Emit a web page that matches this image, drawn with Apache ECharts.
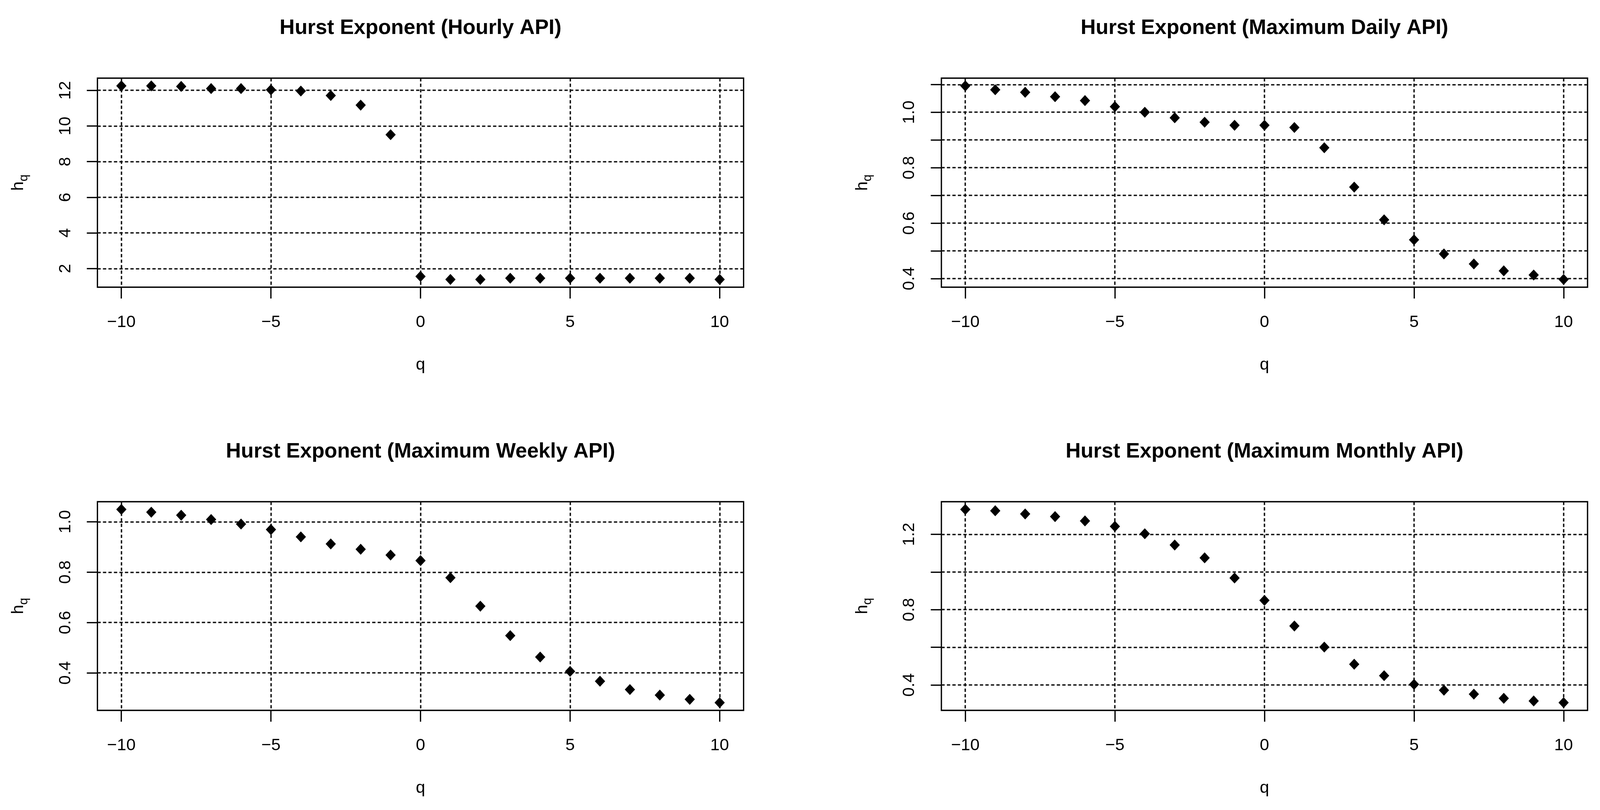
<!DOCTYPE html>
<html>
<head>
<meta charset="utf-8">
<script src="https://cdn.jsdelivr.net/npm/echarts@6/dist/echarts.min.js"></script>
<style>
html,body{margin:0;padding:0;background:#fff;overflow:hidden;}
#c{width:100vw;height:100vh;}
</style>
</head>
<body>
<div id="c"></div>
<script>
// ---- data ----
const q = [-10,-9,-8,-7,-6,-5,-4,-3,-2,-1,0,1,2,3,4,5,6,7,8,9,10];
const hourly  = [12.25,12.25,12.22,12.10,12.10,12.03,11.96,11.71,11.17,9.51,1.56,1.39,1.39,1.46,1.46,1.46,1.46,1.46,1.46,1.46,1.39];
const daily   = [1.095,1.081,1.072,1.056,1.042,1.020,1.000,0.980,0.964,0.953,0.953,0.945,0.872,0.730,0.612,0.540,0.489,0.453,0.428,0.413,0.397];
const weekly  = [1.049,1.038,1.026,1.009,0.991,0.969,0.940,0.912,0.891,0.868,0.846,0.778,0.665,0.548,0.463,0.406,0.367,0.334,0.312,0.295,0.282];
const monthly = [1.332,1.325,1.308,1.294,1.271,1.242,1.203,1.143,1.075,0.968,0.849,0.713,0.601,0.510,0.449,0.403,0.372,0.351,0.329,0.315,0.306];

const titles = ["Hurst Exponent (Hourly API)","Hurst Exponent (Maximum Daily API)","Hurst Exponent (Maximum Weekly API)","Hurst Exponent (Maximum Monthly API)"];
const xTicks = [-10,-5,0,5,10];
const yTicks1 = [2,4,6,8,10,12];
const yLabels1 = [2,4,6,8,10,12];
const yTicks2 = [0.4,0.5,0.6,0.7,0.8,0.9,1.0,1.1];
const yLabels2 = [0.4,0.6,0.8,1.0];
const yTicks3 = [0.4,0.6,0.8,1.0];
const yLabels3 = [0.4,0.6,0.8,1.0];
const yTicks4 = [0.4,0.6,0.8,1.0,1.2];
const yLabels4 = [0.4,0.8,1.2];

const seriesVals = [hourly, daily, weekly, monthly];
const yTicks = [yTicks1, yTicks2, yTicks3, yTicks4];
const yLabels = [yLabels1, yLabels2, yLabels3, yLabels4];
const yDigits = [0,1,1,1];

// ---- layout (designed in 4368x2073 reference pixels, scaled to the viewport) ----
const SX = window.innerWidth / 4368, SY = window.innerHeight / 2073, S = Math.min(SX, SY);
const px = v => v * SX, py = v => v * SY, fs = v => v * S;
const gridsRef = [
  {left:266, top:200, width:1764, height:535},
  {left:2570, top:200, width:1764, height:535},
  {left:266, top:1284, width:1764, height:534},
  {left:2570, top:1284, width:1764, height:534}
];
const grids = gridsRef.map(g => ({left:px(g.left), top:py(g.top), width:px(g.width), height:py(g.height)}));
const titleTops = [46, 46, 1130, 1130];

const FONT = "'Liberation Sans', Arial, sans-serif";
const ext = (arr) => { const mn = Math.min(...arr), mx = Math.max(...arr), r = mx - mn; return [mn - 0.04*r, mx + 0.04*r]; };
const minus = (s) => String(s).replace('-', '\u2212');
const GRIDLINE = {color:'#111', width:fs(3.8), type:[fs(9), fs(6)]};

const option = {
  animation: false,
  backgroundColor: '#fff',
  title: titles.map((t,i) => ({
    text: t, left: grids[i].left + grids[i].width/2, top: py(titleTops[i]), textAlign: 'center', padding: 0,
    textStyle: {fontSize: fs(57), fontWeight: 'bold', fontFamily: FONT, color: '#000'}
  })),
  grid: grids.map(g => Object.assign({show:true, borderColor:'#000', borderWidth:fs(3.5), backgroundColor:'transparent'}, g)),
  xAxis: grids.map((g,i) => {
    const [mn,mx] = ext(q);
    return {
      type:'value', gridIndex:i, min:mn, max:mx,
      name:'q', nameLocation:'middle', nameGap:py(178),
      nameTextStyle:{fontSize:fs(46), fontFamily:FONT, color:'#000'},
      axisLine:{show:false, onZero:false},
      axisTick:{show:true, length:py(29), lineStyle:{color:'#000', width:fs(3.5)}, customValues:xTicks},
      axisLabel:{show:true, margin:py(69), fontSize:fs(46), fontFamily:FONT, color:'#000', customValues:xTicks, formatter:(v)=>minus(v)},
      splitLine:{show:true, lineStyle:GRIDLINE}
    };
  }),
  yAxis: grids.map((g,i) => {
    const [mn,mx] = ext(seriesVals[i]);
    return {
      type:'value', gridIndex:i, min:mn, max:mx,
      name:'{h|h}{s|q}', nameLocation:'middle', nameGap:px(184),
      nameTextStyle:{fontFamily:FONT, color:'#000', rich:{
        h:{fontSize:fs(46), fontFamily:FONT, color:'#000'},
        s:{fontSize:fs(34), fontFamily:FONT, color:'#000', verticalAlign:'bottom', padding:[fs(29),0,0,0]}
      }},
      axisLine:{show:false, onZero:false},
      axisTick:{show:true, length:px(29), lineStyle:{color:'#000', width:fs(3.5)}, customValues:yTicks[i]},
      axisLabel:{show:true, rotate:90, margin:px(64), fontSize:fs(46), fontFamily:FONT, color:'#000', customValues:yLabels[i],
        formatter:(v)=>Number(v).toFixed(yDigits[i])},
      splitLine:{show:true, lineStyle:GRIDLINE}
    };
  }),
  series: seriesVals.map((vals,i) => ({
    type:'scatter', xAxisIndex:i, yAxisIndex:i,
    data: q.map((x,k)=>[x, vals[k]]),
    symbol:'diamond', symbolSize:[fs(28), fs(30)],
    itemStyle:{color:'#000', opacity:1}
  }))
};

const chart = echarts.init(document.getElementById('c'), null, {renderer:'canvas'});
chart.setOption(option);
</script>
</body>
</html>
